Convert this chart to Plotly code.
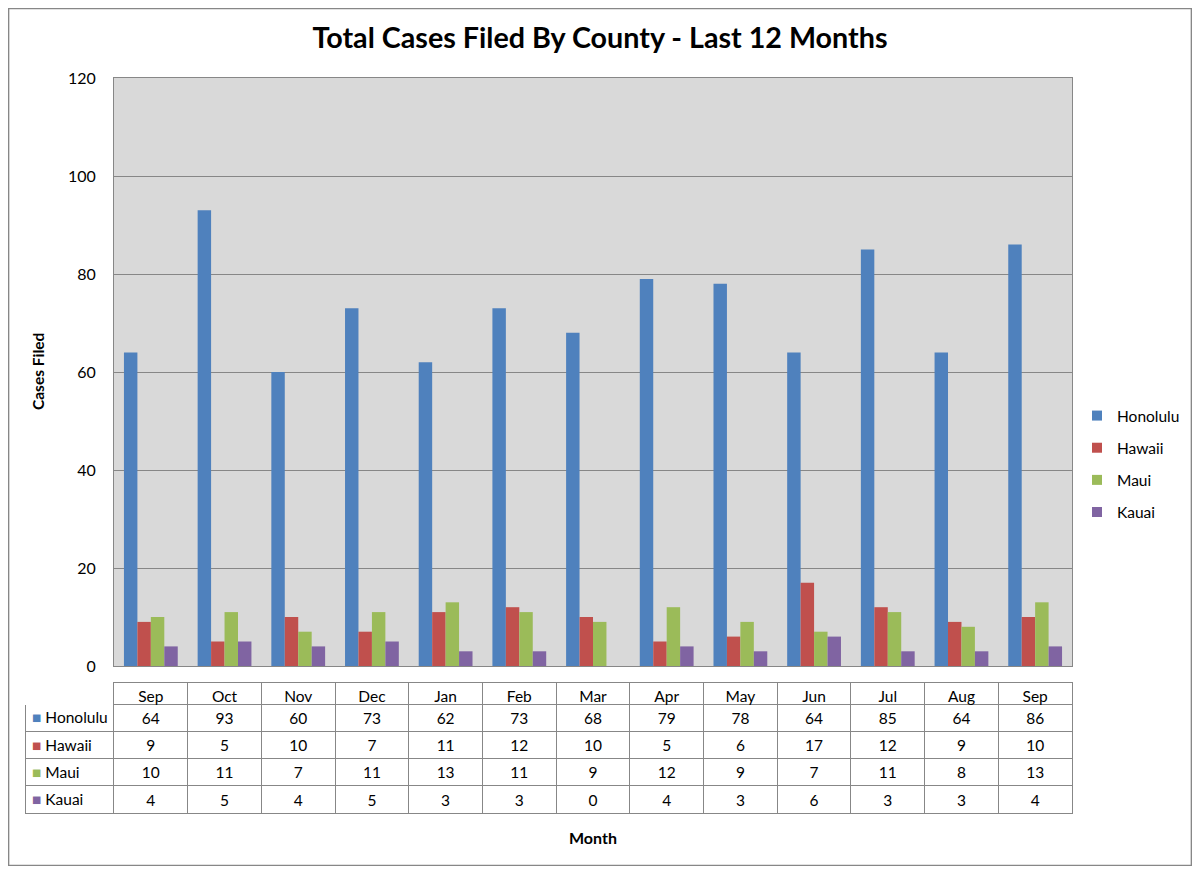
"""Total cases filed by county over the last 12 months, with a data table."""

import plotly.graph_objects as go

MONTHS = ["Sep", "Oct", "Nov", "Dec", "Jan", "Feb", "Mar",
          "Apr", "May", "Jun", "Jul", "Aug", "Sep"]

COUNTIES = ["Honolulu", "Hawaii", "Maui", "Kauai"]

HONOLULU = [64, 93, 60, 73, 62, 73, 68, 79, 78, 64, 85, 64, 86]
HAWAII = [9, 5, 10, 7, 11, 12, 10, 5, 6, 17, 12, 9, 10]
MAUI = [10, 11, 7, 11, 13, 11, 9, 12, 9, 7, 11, 8, 13]
KAUAI = [4, 5, 4, 5, 3, 3, 0, 4, 3, 6, 3, 3, 4]

COLORS = ["#4F81BD", "#C0504D", "#9BBB59", "#8064A2"]

FONT = "Lato"
GRID = "#878787"

# the page body has an 8px margin, so the figure is drawn 8px in
OFF = 8
W, H = 1200 - 2 * OFF, 874 - 2 * OFF


def px_x(p):
    return min(max((p - OFF) / W, 0.0005), 0.9995)


def px_y(p):
    return min(max(1 - (p - OFF) / H, 0.0005), 0.9995)


series = [HONOLULU, HAWAII, MAUI, KAUAI]

# bars are placed on index positions so that table columns line up
idx = list(range(len(MONTHS)))

fig = go.Figure()
for name, vals, col in zip(COUNTIES, series, COLORS):
    fig.add_trace(go.Bar(
        x=idx, y=vals, name=name, legendgroup=name, showlegend=False,
        marker=dict(color=col, line=dict(width=0)),
        hoverinfo="y+name",
    ))

# legend entries with small square keys, like the excel legend
for name, col in zip(COUNTIES, COLORS):
    fig.add_trace(go.Scatter(
        x=[None], y=[None], mode="markers", name=name, legendgroup=name,
        marker=dict(symbol="square", size=10, color=col),
        hoverinfo="skip",
    ))

# data table below the chart (row labels are drawn as annotations)
value_cols = [[str(s[i]) for s in series] for i in range(len(MONTHS))]

fig.add_trace(go.Table(
    domain=dict(x=[px_x(25), px_x(1072)], y=[px_y(840), px_y(682)]),
    columnwidth=[89] + [73.7] * len(MONTHS),
    header=dict(
        values=[""] + MONTHS,
        height=22,
        align="center",
        fill=dict(color="white"),
        line=dict(color=["white"] + [GRID] * len(MONTHS), width=1),
        font=dict(family=FONT, size=15.5, color="black"),
    ),
    cells=dict(
        values=[[""] * len(COUNTIES)] + value_cols,
        height=27.3,
        align="center",
        fill=dict(color="white"),
        line=dict(color=GRID, width=1),
        font=dict(family=FONT, size=15.5, color="black"),
    ),
))

row_centers = [717, 745, 772, 799]
annotations = [
    dict(text=f"<span style='color:{c}'>■</span> {n}", xref="paper", yref="paper",
         x=px_x(30), y=px_y(yc), xanchor="left", yanchor="middle",
         showarrow=False, font=dict(family=FONT, size=15.5, color="black"))
    for n, c, yc in zip(COUNTIES, COLORS, row_centers)
]
annotations += [
    dict(text="<b>Cases Filed</b>", xref="paper", yref="paper",
         x=px_x(38), y=px_y(372), xanchor="center", yanchor="middle",
         textangle=-90, showarrow=False,
         font=dict(family=FONT, size=15.5)),
    dict(text="<b>Month</b>", xref="paper", yref="paper",
         x=px_x(593), y=px_y(837), xanchor="center", yanchor="middle",
         showarrow=False, font=dict(family=FONT, size=16)),
]

fig.update_layout(
    width=W, height=H,
    margin=dict(l=0, r=0, t=0, b=0, autoexpand=False),
    paper_bgcolor="white",
    plot_bgcolor="#D9D9D9",
    barmode="group",
    bargap=0.27,
    bargroupgap=0,
    font=dict(family=FONT, size=15, color="black"),
    title=dict(
        text="<b>Total Cases Filed By County - Last 12 Months</b>",
        x=0.5, xanchor="center", y=px_y(38), yanchor="middle",
        font=dict(family=FONT, size=28.7, color="black"),
    ),
    xaxis=dict(
        domain=[px_x(114), px_x(1072)],
        range=[-0.5, len(MONTHS) - 0.5],
        showticklabels=False, ticks="",
        showgrid=False, zeroline=False,
        showline=True, mirror=True, linecolor=GRID, linewidth=1,
        fixedrange=True,
    ),
    yaxis=dict(
        domain=[px_y(666), px_y(78)],
        range=[0, 120], dtick=20,
        showgrid=True, gridcolor=GRID, gridwidth=1,
        zeroline=False,
        showline=True, mirror=True, linecolor=GRID, linewidth=1,
        ticks="", ticklabelstandoff=14,
        tickfont=dict(family=FONT, size=16),
    ),
    legend=dict(
        x=px_x(1077), y=px_y(399), xanchor="left", yanchor="top",
        font=dict(family=FONT, size=15.5),
        tracegroupgap=9, itemwidth=30,
        bgcolor="rgba(0,0,0,0)",
    ),
    showlegend=True,
    annotations=annotations,
    shapes=[
        dict(type="rect", xref="paper", yref="paper",
             x0=px_x(5), x1=px_x(1193), y0=px_y(870), y1=px_y(4),
             line=dict(color=GRID, width=1.5), layer="below"),
    ],
)

fig.write_html("out.html")
